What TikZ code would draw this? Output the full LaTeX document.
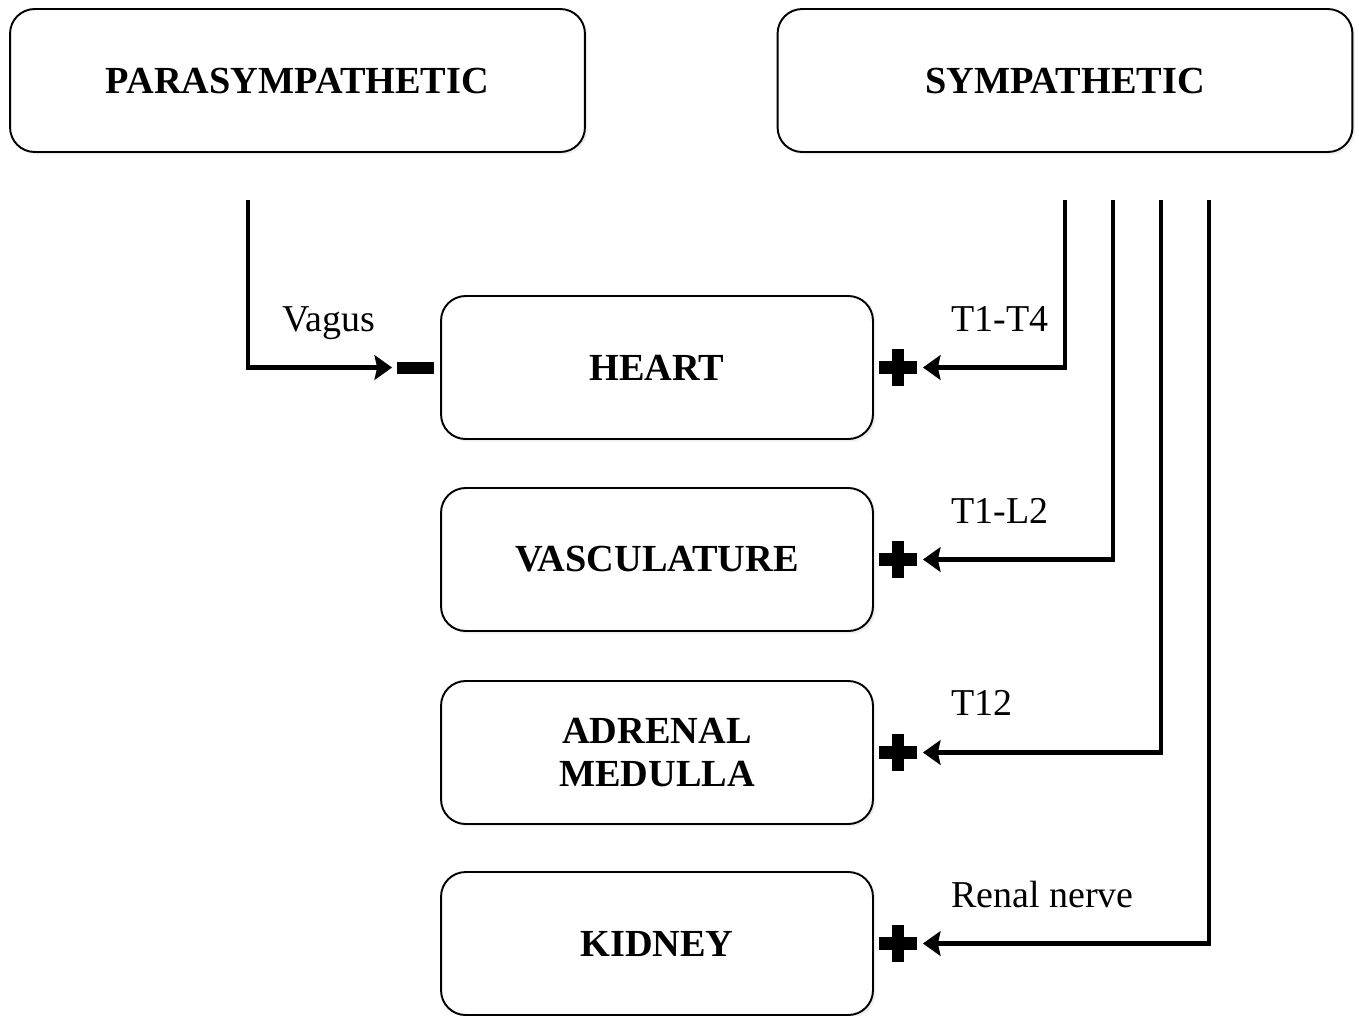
\documentclass[tikz,border=0pt]{standalone}
\usepackage{fontspec}
\setmainfont{Liberation Serif}
\usetikzlibrary{arrows.meta,shadows}
\newcommand{\drawplus}[1]{%
	\path ([xshift=0.49cm]#1.east) coordinate (pc);
	\fill (pc) ++(-19,-6.5) rectangle ++(38,13);
	\fill (pc) ++(-6,-18.5) rectangle ++(12,37);}
\newcommand{\drawminus}[1]{%
	\path ([xshift=-0.49cm]#1.west) coordinate (mc);
	\fill (mc) ++(-18.5,-6) rectangle ++(37,12);}

\begin{document}
\begin{tikzpicture}[x=0.02cm,y=-0.02cm,
	box/.style={draw,line width=1.1pt,rounded corners=14pt,fill=white,
		drop shadow={opacity=0.12,shadow xshift=1.5pt,shadow yshift=-1.5pt},
		font=\fontsize{21.8}{24}\selectfont\bfseries,align=center,minimum height=2.86cm},
	nerve/.style={line width=2.6pt,-{Stealth[length=10pt,width=14pt,inset=1.5pt]}},
	lbl/.style={font=\fontsize{21.6}{24}\selectfont,anchor=base west,inner sep=0pt}]
	\useasboundingbox (0,0) rectangle (1359,1015);
	% systems
	\node[box,minimum width=11.5cm] (para) at (297.5,80.5) {PARASYMPATHETIC};
	\node[box,minimum width=11.5cm] (symp) at (1065,80.5) {SYMPATHETIC};
	% targets
	\node[box,minimum width=8.64cm] (heart) at (657,367.5) {HEART};
	\node[box,minimum width=8.64cm] (vasc) at (657,559.5) {VASCULATURE};
	\node[box,minimum width=8.64cm] (adrenal) at (657,752.5) {ADRENAL\\MEDULLA};
	\node[box,minimum width=8.64cm] (kidney) at (657,943.5) {KIDNEY};
	% nerve fibres
	\coordinate (v0) at (248,200);
	\coordinate (f1) at (1065,200);
	\coordinate (f2) at (1113,200);
	\coordinate (f3) at (1161,200);
	\coordinate (f4) at (1209,200);
	\draw[nerve] (v0) |- ([xshift=-0.96cm]heart.west);
	\draw[nerve] (f1) |- ([xshift=0.98cm]heart.east);
	\draw[nerve] (f2) |- ([xshift=0.98cm]vasc.east);
	\draw[nerve] (f3) |- ([xshift=0.98cm]adrenal.east);
	\draw[nerve] (f4) |- ([xshift=0.98cm]kidney.east);
	\drawminus{heart}
	\drawplus{heart}
	\drawplus{vasc}
	\drawplus{adrenal}
	\drawplus{kidney}
	% labels
	\node[lbl] (lv) at (282,331) {Vagus};
	\node[lbl] (l1) at (951,331) {T1-T4};
	\node[lbl] (l2) at (951,523) {T1-L2};
	\node[lbl] (l3) at (951,715) {T12};
	\node[lbl] (l4) at (951,907) {Renal nerve};
\end{tikzpicture}
\end{document}
